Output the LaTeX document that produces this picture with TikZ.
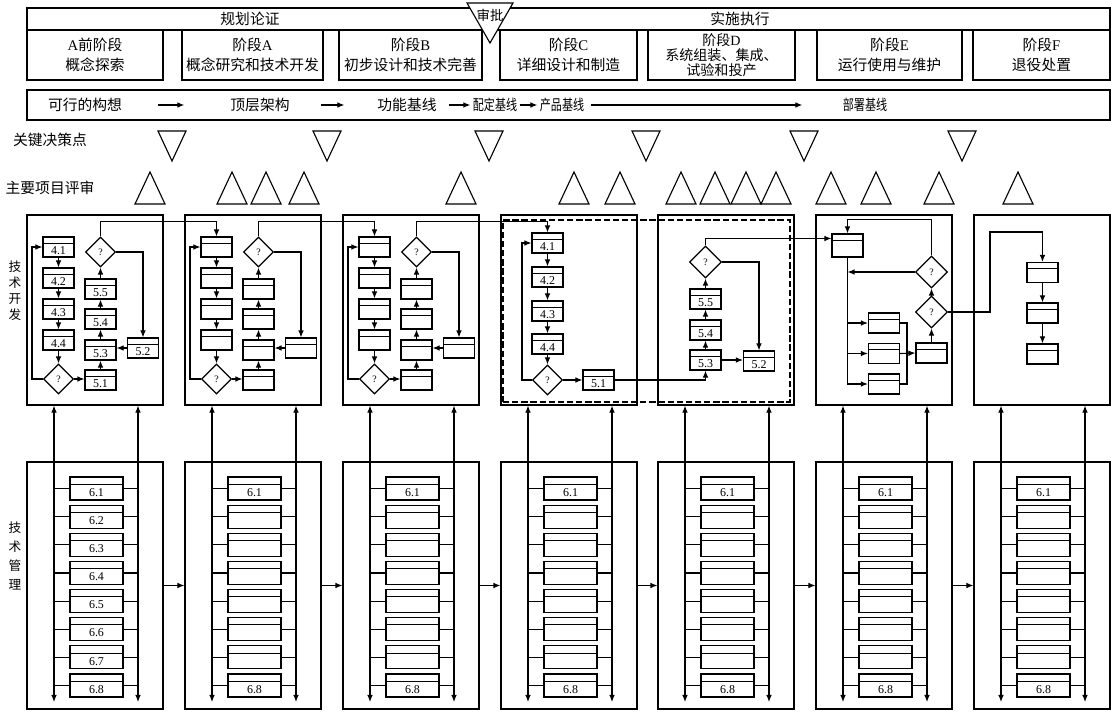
\documentclass[tikz,border=0pt]{standalone}
\usepackage{fontspec}
\usepackage{graphicx}
\setmainfont{Liberation Serif}
\newfontfamily\cjk{Noto Sans CJK SC}
\usetikzlibrary{arrows.meta,positioning,shapes.geometric,calc}
\newlength\px
\setlength\px{0.025cm}
\newcommand\lat[1]{{\rmfamily #1}}
\newcommand\narrow[1]{\scalebox{0.75}[1]{#1}}

\begin{document}
\begin{tikzpicture}[
  x=0.025cm, y=-0.025cm, line width=0.8pt,
  frame/.style={draw, inner sep=0pt},
  phase/.style={draw, inner sep=0pt, minimum height=50\px, align=center, font=\cjk\fontsize{10.5}{14}\selectfont},
  hdr/.style={inner sep=0pt, font=\cjk\fontsize{10.5}{12}\selectfont},
  vlbl/.style={inner sep=0pt, align=center, font=\cjk\fontsize{9}{11.4}\selectfont},
  sb/.style={draw, fill=white, inner sep=0pt, minimum width=31\px, minimum height=20\px,
    font=\fontsize{8.5}{9}\selectfont, text height=10.3pt, text depth=0pt,
    path picture={\draw[line width=0.6pt] ([yshift=-4.3pt]path picture bounding box.north west) -- ([yshift=-4.3pt]path picture bounding box.north east);}},
  mb/.style={draw, fill=white, inner sep=0pt, minimum width=53\px, minimum height=23\px,
    font=\fontsize{8.5}{9}\selectfont, text height=10.8pt, text depth=0pt,
    path picture={\draw[line width=0.6pt] ([yshift=-5pt]path picture bounding box.north west) -- ([yshift=-5pt]path picture bounding box.north east);}},
  dec/.style={draw, diamond, fill=white, inner sep=0pt, minimum width=30\px, minimum height=30\px, font=\fontsize{7}{7}\selectfont},
  grp/.style={draw, dash pattern=on 4.5pt off 2pt, line width=1.4pt, inner sep=0pt},
  arr/.style={-{Latex[length=5pt,width=4pt]}},
  biarr/.style={{Latex[length=5pt,width=4pt]}-{Latex[length=5pt,width=4pt]}},
  gate/.pic={\draw (-14,-15) -- (14,-15) -- (0,15) -- cycle;},
  review/.pic={\draw (-15,16) -- (15,16) -- (0,-16) -- cycle;}
]
  \useasboundingbox (0,0) rectangle (1111,711);

  % header: stages
  \node[frame, minimum width=1083\px, minimum height=22\px] (band) at (568.5,19) {};
  \node[hdr] (plan) at (250,19) {规划论证};
  \node[hdr] (exec) at (740,19) {实施执行};
  \node[phase, minimum width=136\px] (pA0) at (95,55) {\lat{A}前阶段\\概念探索};
  \node[phase, minimum width=141\px] (pA) at (252.5,55) {阶段\lat{A}\\概念研究和技术开发};
  \node[phase, minimum width=143\px] (pB) at (410.5,55) {阶段\lat{B}\\初步设计和技术完善};
  \node[phase, minimum width=137\px] (pC) at (568.5,55) {阶段\lat{C}\\详细设计和制造};
  \node[phase, minimum width=147\px, font=\cjk\fontsize{10}{10.8}\selectfont] (pD) at (721.5,55) {阶段\lat{D}\\系统组装、集成、\\试验和投产};
  \node[phase, minimum width=145\px] (pE) at (889.5,55) {阶段\lat{E}\\运行使用与维护};
  \node[phase, minimum width=137\px] (pF) at (1041.5,55) {阶段\lat{F}\\退役处置};
  \draw[fill=white] (467,3) -- (513,3) -- (490,43) -- cycle;
  \node[hdr, font=\cjk\fontsize{9.5}{10}\selectfont] (appr) at (490,15) {审批};

  % baselines
  \node[frame, minimum width=1083\px, minimum height=30\px] (bar) at (568.5,105) {};
  \node[hdr] (bfeas) at (85,105) {可行的构想};
  \node[hdr] (btop) at (260,105) {顶层架构};
  \node[hdr] (bfun) at (407,105) {功能基线};
  \node[hdr] (balloc) at (495,105) {\narrow{配定基线}};
  \node[hdr] (bprod) at (562,105) {\narrow{产品基线}};
  \node[hdr] (bdep) at (865,105) {\narrow{部署基线}};
  \draw[arr, shorten <=25pt, shorten >=32.4pt] (bfeas) -- (btop);
  \draw[arr, shorten <=21.7pt, shorten >=23.1pt] (btop) -- (bfun);
  \draw[arr, shorten <=8.2pt, shorten >=1.35pt] (bfun) -- (balloc);
  \draw[arr, shorten <=1.35pt, shorten >=1.35pt] (balloc) -- (bprod);
  \draw[arr, shorten <=4.2pt, shorten >=28.4pt] (bprod) -- (bdep);

  % decision points and reviews
  \node[hdr] (kdp) at (50,140) {关键决策点};
  \node[hdr] (rvw) at (50,188) {主要项目评审};
  \foreach \x in {172,327,489,646,804,962}
    \pic at (\x,146) {gate};
  \foreach \x in {150,232,266,304,461,574,620,681,715,746,776,831,876,939,1018}
    \pic at (\x,188) {review};

  % technical development
  \node[vlbl] (dlab) at (15,291) {技\\术\\开\\发};
  \foreach \lx [count=\col] in {27,185,343,501,658,816,974}
    \node[frame, minimum width=136\px, minimum height=190\px] (dev\col) at (\lx+68,310) {};
  \node[grp, minimum width=287\px, minimum height=182\px] (grpCD) at (646.5,311) {};

  \foreach \lx/\cn/\lb in {27/1/1,185/2/0,343/3/0}{
    \node[sb] (t\cn-41) at (\lx+31.5,247) {\ifnum\lb=1 4.1\fi};
    \node[sb] (t\cn-42) at (\lx+31.5,278) {\ifnum\lb=1 4.2\fi};
    \node[sb] (t\cn-43) at (\lx+31.5,309) {\ifnum\lb=1 4.3\fi};
    \node[sb] (t\cn-44) at (\lx+31.5,340) {\ifnum\lb=1 4.4\fi};
    \node[dec] (t\cn-qa) at (\lx+31.5,379) {?};
    \node[sb] (t\cn-51) at (\lx+73.5,380) {\ifnum\lb=1 5.1\fi};
    \node[sb] (t\cn-53) at (\lx+73.5,350) {\ifnum\lb=1 5.3\fi};
    \node[sb] (t\cn-54) at (\lx+73.5,319) {\ifnum\lb=1 5.4\fi};
    \node[sb] (t\cn-55) at (\lx+73.5,289) {\ifnum\lb=1 5.5\fi};
    \node[dec] (t\cn-qb) at (\lx+73.5,252) {?};
    \node[sb] (t\cn-52) at (\lx+116,348) {\ifnum\lb=1 5.2\fi};
    \draw[arr] (t\cn-41) -- (t\cn-42);
    \draw[arr] (t\cn-42) -- (t\cn-43);
    \draw[arr] (t\cn-43) -- (t\cn-44);
    \draw[arr] (t\cn-44) -- (t\cn-qa);
    \draw[arr] (t\cn-qa.west) -- ++(-11,0) |- (t\cn-41.west);
    \draw[arr] (t\cn-qa.east) -- (t\cn-qa.east -| t\cn-51.west);
    \draw[arr] (t\cn-51) -- (t\cn-53);
    \draw[arr] (t\cn-53) -- (t\cn-54);
    \draw[arr] (t\cn-54) -- (t\cn-55);
    \draw[arr] (t\cn-55) -- (t\cn-qb);
    \draw[arr] (t\cn-52.west) -- (t\cn-52.west -| t\cn-53.east);
    \draw[arr] (t\cn-qb.east) -| (t\cn-52.north);
  }

  % stage C
  \node[sb] (c41) at (547.5,243) {4.1};
  \node[sb] (c42) at (547.5,277) {4.2};
  \node[sb] (c43) at (547.5,311) {4.3};
  \node[sb] (c44) at (547.5,344) {4.4};
  \node[dec] (cq) at (547.5,380) {?};
  \node[sb] (c51) at (598.5,380) {5.1};
  \draw[arr] (c41) -- (c42);
  \draw[arr] (c42) -- (c43);
  \draw[arr] (c43) -- (c44);
  \draw[arr] (c44) -- (cq);
  \draw[arr] (cq.west) -- ++(-10,0) |- (c41.west);
  \draw[arr] (cq.east) -- (cq.east -| c51.west);

  % stage D
  \node[sb] (d53) at (705.5,360) {5.3};
  \node[sb] (d54) at (705.5,330) {5.4};
  \node[sb] (d55) at (705.5,299) {5.5};
  \node[dec, minimum width=32\px, minimum height=32\px] (dq) at (705.5,262) {?};
  \node[sb] (d52) at (759,361) {5.2};
  \draw[arr] (c51.east) -| (d53.south);
  \draw[arr] (d53) -- (d54);
  \draw[arr] (d54) -- (d55);
  \draw[arr] (d55) -- (dq);
  \draw[arr] (d53.east) -- (d53.east -| d52.west);
  \draw[arr] (dq.east) -| (d52.north);

  % stage E
  \node[sb, minimum height=23\px] (e1) at (847.5,245.5) {};
  \node[sb] (e2) at (884,323) {};
  \node[sb] (e3) at (884,353.5) {};
  \node[sb] (e4) at (884,384) {};
  \node[sb] (e5) at (931.5,353) {};
  \node[dec, minimum width=32\px, minimum height=32\px] (eqa) at (931.5,312) {?};
  \node[dec, minimum width=32\px, minimum height=32\px] (eqb) at (931.5,272) {?};
  \coordinate (em) at (907,353.5);
  \coordinate (et) at (990,232);
  \draw[arr] (dq.north) |- ([yshift=5pt]e1.west);
  \draw[arr] (e1.south) |- (e4.west);
  \draw[arr] (e1.south |- e2.west) -- (e2.west);
  \draw[arr] (e1.south |- e3.west) -- (e3.west);
  \draw (e2.east) -| (em);
  \draw (e4.east) -| (em);
  \draw[arr] (e3.east) -- (e5.west);
  \draw[arr] (e5) -- (eqa);
  \draw[arr] (eqa) -- (eqb);
  \draw[arr] (eqb.west) -- (eqb.west -| e1.south);
  \draw[arr] (eqb.north) -- ++(0,-36) -| (e1.north);

  % stage F
  \node[sb] (f1) at (1042.5,272.5) {};
  \node[sb] (f2) at (1042.5,313) {};
  \node[sb] (f3) at (1042.5,354) {};
  \draw[arr] (eqa.east) -| (et) -| (f1.north);
  \draw[arr] (f1) -- (f2);
  \draw[arr] (f2) -- (f3);

  % links between stages
  \draw[arr] (t1-qb.north) -- ++(0,-15) -| (t2-41.north);
  \draw[arr] (t2-qb.north) -- ++(0,-15) -| (t3-41.north);
  \draw[arr] (t3-qb.north) -- ++(0,-15) -| (c41.north);

  % technical management
  \node[vlbl, font=\cjk\fontsize{9}{13.5}\selectfont] (mlab) at (15,556) {技\\术\\管\\理};
  \foreach \lx [count=\col] in {27,185,343,501,658,816,974}{
    \node[frame, minimum width=136\px, minimum height=247\px] (mg\col) at (\lx+68,585.5) {};
    \coordinate (ml\col) at (\lx+27,702);
    \coordinate (mr\col) at (\lx+111,702);
    \draw[biarr] (ml\col) -- (ml\col |- dev\col.south);
    \draw[biarr] (mr\col) -- (mr\col |- dev\col.south);
    \foreach \row in {1,...,8}{
      \node[mb] (m\col-\row) at (\lx+69.5,460.35+28.15*\row)
        {\ifnum\col=1 6.\row\else\ifnum\row=1 6.1\else\ifnum\row=8 6.8\fi\fi\fi};
      \draw (m\col-\row.west) -- (m\col-\row.west -| ml\col);
      \draw (m\col-\row.east) -- (m\col-\row.east -| mr\col);
    }
  }
  \foreach \a/\b in {1/2,2/3,3/4,4/5,5/6,6/7}
    \draw[arr] (mg\a.east) -- (mg\b.west);
\end{tikzpicture}
\end{document}
